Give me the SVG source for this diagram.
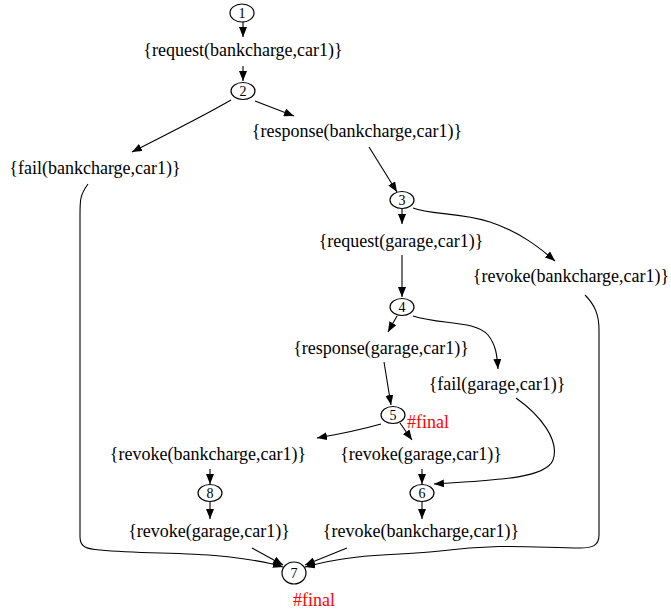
<svg xmlns="http://www.w3.org/2000/svg" width="671" height="613" viewBox="0 0 671 613">
<style>
.lbl{font-family:"Liberation Serif","Times New Roman",Times,serif;font-size:18px;fill:#000;text-anchor:middle}
.num{font-family:"Liberation Serif","Times New Roman",Times,serif;font-size:14px;fill:#000;text-anchor:middle}
.fin{font-family:"Liberation Serif","Times New Roman",Times,serif;font-size:18px;fill:#ff0000}
ellipse{fill:#fff;stroke:#000;stroke-width:1.2}
.e{fill:none;stroke:#000;stroke-width:1.1;marker-end:url(#ah)}
</style>
<defs>
<marker id="ah" markerUnits="userSpaceOnUse" markerWidth="10" markerHeight="8" refX="10" refY="4" orient="auto">
<path d="M0,0 L10,4 L0,8 z" fill="#000"/>
</marker>
</defs>
<rect width="671" height="613" fill="#fff"/>
<g id="connectors">
<path class="e" d="M243,22 L243,37"/>
<path class="e" d="M243,66 L243,81"/>
<path class="e" d="M231,100 C200,118 165,135 132,152"/>
<path class="e" d="M255,101 L294,116"/>
<path class="e" d="M369,147 L397,192"/>
<path class="e" d="M402,209 L402,224"/>
<path class="e" d="M413,208 C430,215 460,212 490,222 C520,232 540,248 555,261"/>
<path class="e" d="M402,255 L402,297"/>
<path class="e" d="M397,316 L388,332"/>
<path class="e" d="M413,316 C440,325 475,320 488,335 C496,345 497,355 498,369"/>
<path class="e" d="M384,362 L391,405"/>
<path class="e" d="M381,424 C360,430 340,434 317,438"/>
<path class="e" d="M400,423 L412,440"/>
<path class="e" d="M516,398 C540,415 560,440 553,460 C546,478 500,480 434,484"/>
<path class="e" d="M422,469 L422,484"/>
<path class="e" d="M210,469 L210,484"/>
<path class="e" d="M210,502 L210,519"/>
<path class="e" d="M422,502 L422,519"/>
<path class="e" d="M252,548 L283,565"/>
<path class="e" d="M347,548 L305,565"/>
<path class="e" d="M88,184 C80,195 80,200 80,215 L80,537 C80,548 88,549 100,550 C140,554 180,552 220,556 C250,559 268,562 283,567"/>
<path class="e" d="M585,295 C595,305 599,315 599,330 L599,535 C599,546 592,548 580,548 C540,548 500,543 440,551 C400,556 360,552 305,567"/>
</g>
<g id="n1"><ellipse cx="242" cy="13" rx="12" ry="9"/><text class="num" x="242" y="18">1</text></g>
<g id="a1"><text class="lbl" x="243" y="56">{request(bankcharge,car1)}</text></g>
<g id="n2"><ellipse cx="243" cy="91" rx="12" ry="8.5"/><text class="num" x="243" y="96">2</text></g>
<g id="a2"><text class="lbl" x="95" y="174">{fail(bankcharge,car1)}</text></g>
<g id="a3"><text class="lbl" x="357" y="137">{response(bankcharge,car1)}</text></g>
<g id="n3"><ellipse cx="402" cy="200" rx="12" ry="8.5"/><text class="num" x="402" y="205">3</text></g>
<g id="a4"><text class="lbl" x="401" y="247">{request(garage,car1)}</text></g>
<g id="a5"><text class="lbl" x="571" y="282">{revoke(bankcharge,car1)}</text></g>
<g id="n4"><ellipse cx="402" cy="307" rx="12" ry="8.5"/><text class="num" x="402" y="312">4</text></g>
<g id="a6"><text class="lbl" x="381" y="354">{response(garage,car1)}</text></g>
<g id="a7"><text class="lbl" x="497" y="390">{fail(garage,car1)}</text></g>
<g id="n5"><ellipse cx="393" cy="415" rx="12" ry="8.5"/><text class="num" x="393" y="420">5</text><text class="fin" x="407" y="428">#final</text></g>
<g id="a8"><text class="lbl" x="208" y="460">{revoke(bankcharge,car1)}</text></g>
<g id="a9"><text class="lbl" x="421" y="460">{revoke(garage,car1)}</text></g>
<g id="n8"><ellipse cx="210" cy="493" rx="12" ry="8.5"/><text class="num" x="210" y="498">8</text></g>
<g id="n6"><ellipse cx="422" cy="493" rx="12" ry="8.5"/><text class="num" x="422" y="498">6</text></g>
<g id="a10"><text class="lbl" x="209" y="537">{revoke(garage,car1)}</text></g>
<g id="a11"><text class="lbl" x="421" y="537">{revoke(bankcharge,car1)}</text></g>
<g id="n7"><ellipse cx="294" cy="573" rx="12" ry="11"/><text class="num" x="294" y="578">7</text><text class="fin" x="293" y="606">#final</text></g>
</svg>
